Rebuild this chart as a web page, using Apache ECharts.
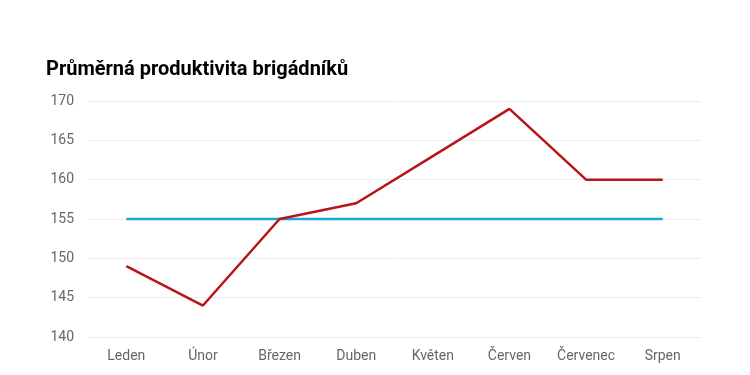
<!DOCTYPE html>
<html><head><meta charset="utf-8">
<script src="https://cdn.jsdelivr.net/npm/echarts@6/dist/echarts.min.js"></script>
<style>html,body{margin:0;padding:0;background:#fff}#c{width:750px;height:375px}</style>
</head><body><div id="c"></div>
<script>
const categories = ["Leden","Únor","Březen","Duben","Květen","Červen","Červenec","Srpen"];
const productivity = [149,144,155,157,163,169,160,160];
const target = [155,155,155,155,155,155,155,155];
const chart = echarts.init(document.getElementById('c'));
chart.setOption({
  animation:false,
  title:{text:"Průměrná produktivita brigádníků",left:41,top:55,textStyle:{fontFamily:"Roboto",fontWeight:"bold",fontSize:20,color:"#000"}},
  grid:{left:88,right:49,top:101,bottom:38},
  xAxis:{type:"category",data:categories,boundaryGap:true,
    axisLine:{show:false},axisTick:{show:false},
    axisLabel:{color:"#666",fontFamily:"Roboto",fontSize:14,margin:12}},
  yAxis:{type:"value",min:140,max:170,interval:5,
    axisLine:{show:false},axisTick:{show:false},
    splitLine:{lineStyle:{color:"#ececec"}},
    axisLabel:{color:"#666",fontFamily:"Roboto",fontSize:14,margin:14}},
  series:[
    {type:"line",data:target,symbol:"none",lineStyle:{color:"#1aa7e0",width:2.5},itemStyle:{color:"#1aa7e0"}},
    {type:"line",data:productivity,symbol:"none",lineStyle:{color:"#b8141c",width:2.5},itemStyle:{color:"#b8141c"}}
  ]
});
</script></body></html>
